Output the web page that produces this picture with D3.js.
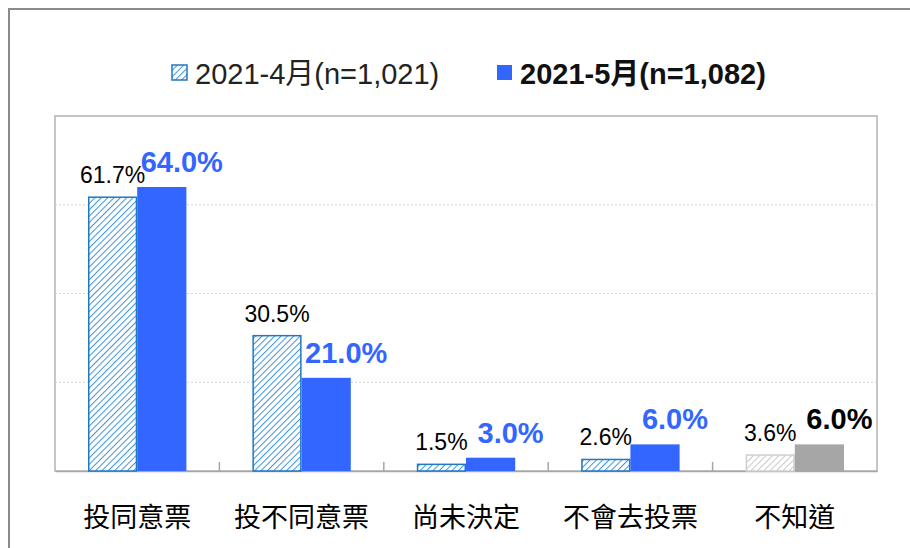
<!DOCTYPE html>
<html>
<head>
<meta charset="utf-8">
<script src="https://cdn.jsdelivr.net/npm/d3@7"></script>
<style>
  body { margin: 0; background: #fff; }
  text { font-family: "Liberation Sans", Arial, "Noto Sans CJK TC", sans-serif; }
</style>
</head>
<body>
<script>
// data
const categories = ["投同意票", "投不同意票", "尚未決定", "不會去投票", "不知道"];
const april = [61.7, 30.5, 1.5, 2.6, 3.6];
const may = [64.0, 21.0, 3.0, 6.0, 6.0];
const seriesNames = ["2021-4月(n=1,021)", "2021-5月(n=1,082)"];
const yTicks = [0, 20, 40, 60, 80];

const W = 910, H = 548;
const margin = { top: 116, right: 33, bottom: 77, left: 55 };
const width = W - margin.left - margin.right;
const height = H - margin.top - margin.bottom;

const svg = d3.select("body").append("svg")
  .attr("width", W)
  .attr("height", H);

// hatch patterns
const defs = svg.append("defs");
function hatch(id, color) {
  const p = defs.append("pattern")
    .attr("id", id)
    .attr("patternUnits", "userSpaceOnUse")
    .attr("width", 4.5).attr("height", 4.5)
    .attr("patternTransform", "rotate(45)");
  p.append("rect").attr("width", 4.5).attr("height", 4.5).attr("fill", "#fff");
  p.append("line").attr("x1", 0).attr("y1", 0).attr("x2", 0).attr("y2", 4.5)
    .attr("stroke", color).attr("stroke-width", 2);
}
hatch("hatchBlue", "#3f93d6");
hatch("hatchGray", "#c9c9c9");

// outer frame
svg.append("rect")
  .attr("x", 9).attr("y", 9)
  .attr("width", W + 20).attr("height", H + 20)
  .attr("fill", "none")
  .attr("stroke", "#8a8a8a")
  .attr("stroke-width", 2);

const g = svg.append("g")
  .attr("transform", "translate(" + margin.left + "," + margin.top + ")");

const x0 = d3.scaleBand().domain(categories).range([0, width]).paddingInner(0).paddingOuter(0);
const x1 = d3.scaleBand().domain([0, 1]).range([33, x0.bandwidth() - 33]);
const y = d3.scaleLinear().domain([0, 80]).range([height, 0]);

// plot border
g.append("rect")
  .attr("width", width).attr("height", height)
  .attr("fill", "none")
  .attr("stroke", "#b3b3b3")
  .attr("stroke-width", 1.5);

// gridlines
g.selectAll(".grid")
  .data(yTicks.slice(1, -1))
  .enter().append("line")
  .attr("x1", 0).attr("x2", width)
  .attr("y1", d => y(d)).attr("y2", d => y(d))
  .attr("stroke", "#d4d4d4")
  .attr("stroke-dasharray", "2,2");

// x axis
const xAxis = g.append("g")
  .attr("transform", "translate(0," + height + ")")
  .call(d3.axisBottom(x0).tickSize(0).tickPadding(37));
xAxis.select(".domain").attr("stroke", "#a6a6a6").attr("stroke-width", 1.5);
xAxis.selectAll("text")
  .attr("font-size", 27)
  .attr("fill", "#000")
  .style("font-family", "'Noto Sans CJK TC', sans-serif");
// category separators
g.selectAll(".sep")
  .data(categories.slice(1))
  .enter().append("line")
  .attr("x1", d => x0(d)).attr("x2", d => x0(d))
  .attr("y1", height - 9).attr("y2", height)
  .attr("stroke", "#a6a6a6")
  .attr("stroke-width", 1.5);

const last = categories.length - 1;

// april bars
g.selectAll(".barA")
  .data(april)
  .enter().append("rect")
  .attr("x", (d, i) => x0(categories[i]) + x1(0) + 0.75)
  .attr("y", d => y(d))
  .attr("width", x1.bandwidth() - 1.5)
  .attr("height", d => height - y(d))
  .attr("fill", (d, i) => i === last ? "url(#hatchGray)" : "url(#hatchBlue)")
  .attr("stroke", (d, i) => i === last ? "#cfcfcf" : "#1f78c4")
  .attr("stroke-width", 1.5);

// may bars
g.selectAll(".barB")
  .data(may)
  .enter().append("rect")
  .attr("x", (d, i) => x0(categories[i]) + x1(1))
  .attr("y", d => y(d))
  .attr("width", x1.bandwidth())
  .attr("height", d => height - y(d))
  .attr("fill", (d, i) => i === last ? "#a6a6a6" : "#3366ff");

// labels
g.selectAll(".labA")
  .data(april)
  .enter().append("text")
  .attr("x", (d, i) => x0(categories[i]) + x1(0) + x1.bandwidth() / 2)
  .attr("y", d => y(d) - 14)
  .attr("text-anchor", "middle")
  .attr("font-size", 23)
  .attr("fill", "#000")
  .text(d => d.toFixed(1) + "%");

g.selectAll(".labB")
  .data(may)
  .enter().append("text")
  .attr("x", (d, i) => x0(categories[i]) + x1(1) + x1.bandwidth() / 2 + 20)
  .attr("y", d => y(d) - 15)
  .attr("text-anchor", "middle")
  .attr("font-size", 29)
  .attr("font-weight", "bold")
  .attr("fill", (d, i) => i === last ? "#000" : "#3366ff")
  .text(d => d.toFixed(1) + "%");

// legend
const legend = svg.append("g");
legend.append("rect")
  .attr("x", 172).attr("y", 65).attr("width", 15).attr("height", 15)
  .attr("fill", "url(#hatchBlue)")
  .attr("stroke", "#1f78c4").attr("stroke-width", 1.5);
legend.append("text")
  .attr("x", 195).attr("y", 84)
  .attr("font-size", 29)
  .attr("fill", "#222")
  .text(seriesNames[0]);
legend.append("rect")
  .attr("x", 497).attr("y", 65).attr("width", 15).attr("height", 15)
  .attr("fill", "#3366ff");
legend.append("text")
  .attr("x", 520).attr("y", 84)
  .attr("font-size", 29)
  .attr("font-weight", "bold")
  .attr("fill", "#111")
  .text(seriesNames[1]);
</script>
</body>
</html>
